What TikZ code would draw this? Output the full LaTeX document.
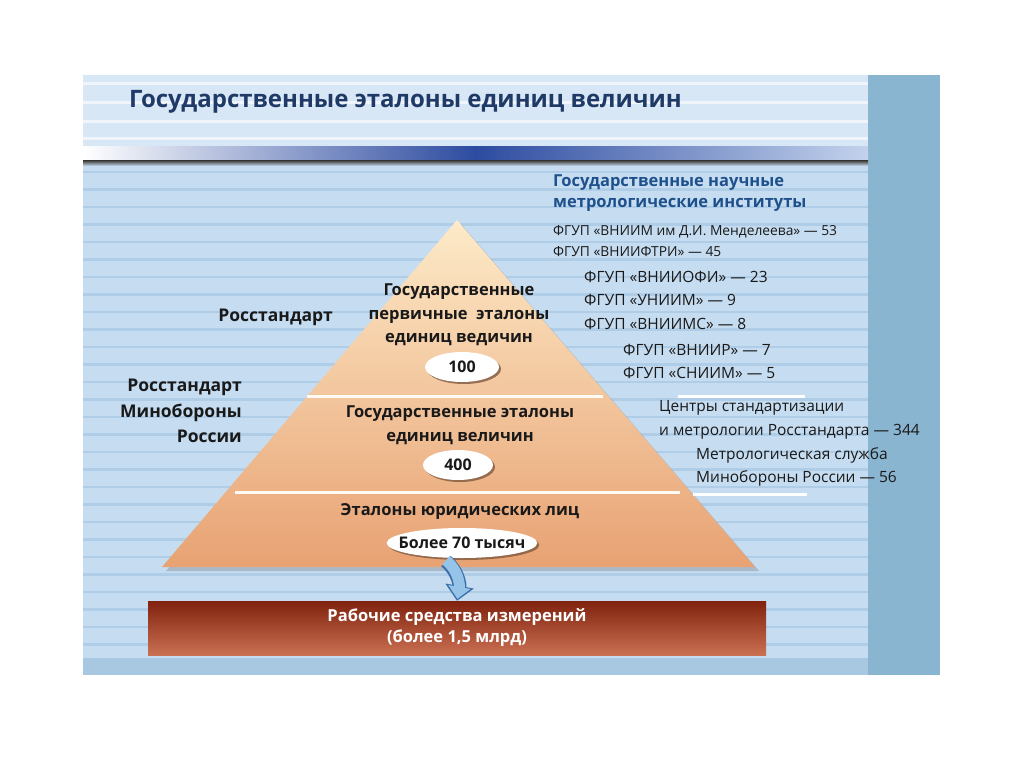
\documentclass[tikz,border=0pt]{standalone}
\usepackage{fontspec}
\setmainfont{Open Sans}
\usepackage{tikz}
\usetikzlibrary{shapes,arrows.meta,positioning,shadows}
\definecolor{titleBlue}{RGB}{31,58,102}
\definecolor{headBlue}{RGB}{30,80,140}
\definecolor{slideBg}{RGB}{198,221,241}
\definecolor{headBg}{RGB}{216,231,246}
\definecolor{stripeBlue}{RGB}{176,205,232}
\definecolor{stripRight}{RGB}{138,181,209}
\definecolor{bandBlue}{RGB}{168,199,225}
\definecolor{barDark}{RGB}{45,75,160}
\definecolor{barLight}{RGB}{195,210,236}
\definecolor{pyrTop}{RGB}{253,234,200}
\definecolor{pyrBottom}{RGB}{232,162,115}
\definecolor{workTop}{RGB}{128,34,14}
\definecolor{workBottom}{RGB}{202,112,82}
\definecolor{arrowBlue}{RGB}{150,196,232}
\definecolor{arrowEdge}{RGB}{60,110,170}
\definecolor{textDark}{RGB}{25,25,25}
\newcommand{\fsz}[2]{\fontsize{#1}{#2}\selectfont}

\tikzset{
  title/.style={anchor=west,inner sep=0pt,font=\fsz{24}{30}\bfseries,text=titleBlue},
  insthead/.style={anchor=west,inner sep=0pt,font=\fsz{16.5}{21}\bfseries,text=headBlue,align=left},
  inst/.style={anchor=west,inner sep=0pt,font=\fsz{15.5}{20},text=textDark},
  side/.style={anchor=east,inner sep=0pt,font=\fsz{17.5}{25.5}\bfseries,text=textDark,align=right},
  level/.style={inner sep=0pt,font=\fsz{16.5}{23.5}\bfseries,text=textDark,align=center},
  count/.style={ellipse,fill=white,inner sep=0pt,minimum height=30pt,
                font=\fsz{16}{20}\bfseries,text=textDark,
                drop shadow={shadow xshift=2pt,shadow yshift=-2pt,fill=black!45!pyrBottom,opacity=0.8}},
  divider/.style={draw=white!80!pyrTop,line width=3pt},
  workbar/.style={minimum width=618pt,minimum height=54pt,inner sep=0pt,
                  top color=workTop,bottom color=workBottom,
                  font=\fsz{16.5}{21}\bfseries,text=white,align=center},
}

\begin{document}
\begin{tikzpicture}[x=1pt,y=-1pt]
\useasboundingbox (0,0) rectangle (1024,767);
\fill[white] (0,0) rectangle (1024,767);

% slide background
\fill[slideBg] (83,75) rectangle (940,675);
\fill[headBg] (83,75) rectangle (868,147);
\foreach \y in {84,103,122,139}
  \draw[white!60!headBg,line width=3pt] (83,\y) -- (868,\y);
\foreach \y in {172,189.5,...,650}
  \draw[stripeBlue,line width=2.5pt] (83,\y) -- (868,\y);
\fill[bandBlue] (83,658) rectangle (868,675);
\fill[stripRight] (868,75) rectangle (940,675);
\shade[left color=white,right color=barLight,middle color=barDark] (83,147) rectangle (868,161);
\shade[top color=black!70,bottom color=slideBg] (83,161) rectangle (868,166);

\node[title] (title) at (129,102) {Государственные эталоны единиц величин};

% pyramid
\coordinate (apex) at (457,220);
\coordinate (baseL) at (162,567);
\coordinate (baseR) at (755,567);
\fill[black!60,opacity=0.3] ([shift={(4,4)}]apex) -- ([shift={(4,4)}]baseR) -- ([shift={(4,4)}]baseL) -- cycle;
\shade[top color=pyrTop,bottom color=pyrBottom] (apex) -- (baseR) -- (baseL) -- cycle;
\draw[divider] (307,396) -- (603,396);
\draw[divider] (235,492) -- (680,492);
\draw[white,line width=3pt] (678,396) -- (805,396);
\draw[white,line width=3pt] (693,494) -- (807,494);

\node[level] (primary) at (459,315) {Государственные\\первичные~~эталоны\\единиц ведичин};
\node[count,minimum width=74pt] (n100) at (462,367) {100};
\node[level] (state) at (460,425) {Государственные эталоны\\единиц величин};
\node[count,minimum width=70pt] (n400) at (458,465) {400};
\node[level] (legal) at (460,512) {Эталоны юридических лиц};
\node[count,inner xsep=-10pt,inner ysep=2pt] (n70k) at (462,543) {Более 70 тысяч};

% left labels
\node[side] (rst) at (333,317) {Росстандарт};
\node[side] (rstmo) at (242,411) {Росстандарт\\Минобороны\\России};

% institutes
\node[insthead] (insthd) at (553,193) {Государственные научные\\метрологические институты};
\node[inst,font=\fsz{13.8}{18}] (i1) at (553,232) {ФГУП «ВНИИМ им Д.И. Менделеева» — 53};
\node[inst,font=\fsz{13.8}{18}] (i2) at (553,252) {ФГУП «ВНИИФТРИ» — 45};
\node[inst] (i3) at (584,277) {ФГУП «ВНИИОФИ» — 23};
\node[inst] (i4) at (584,300) {ФГУП «УНИИМ» — 9};
\node[inst] (i5) at (584,324) {ФГУП «ВНИИМС» — 8};
\node[inst] (i6) at (623,350) {ФГУП «ВНИИР» — 7};
\node[inst] (i7) at (623,373) {ФГУП «СНИИМ» — 5};

\node[inst] (c1) at (659,408) {Центры стандартизации};
\node[inst] (c2) at (659,432) {и метрологии Росстандарта — 344};
\node[inst] (c3) at (696,455) {Метрологическая служба};
\node[inst] (c4) at (696,478) {Минобороны России — 56};

% working instruments
\node[workbar] (work) at (457,628) {Рабочие средства измерений\\(более 1,5 млрд)};
\draw[arrowEdge,line width=14pt,-{Triangle[length=15pt,width=28pt]}]
  ([xshift=-16pt,yshift=-3pt]n70k.south) to[out=-40,in=80] (work.north);
\draw[arrowBlue,line width=11pt,shorten >=2pt,-{Triangle[length=12pt,width=22pt]}]
  ([xshift=-16pt,yshift=-2pt]n70k.south) to[out=-40,in=80] (work.north);
\end{tikzpicture}
\end{document}
